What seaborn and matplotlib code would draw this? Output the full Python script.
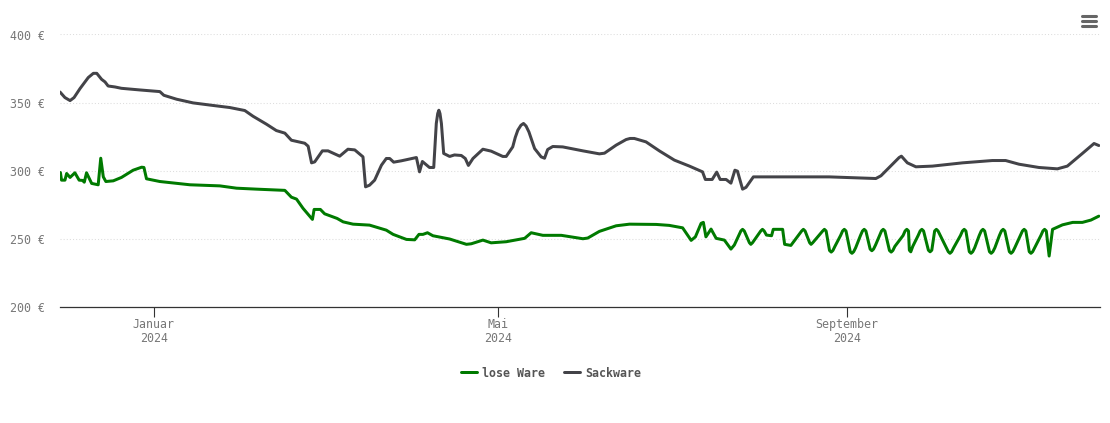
import matplotlib
matplotlib.use('Agg')
import pandas as pd
import seaborn as sns
from matplotlib import pyplot as plt
from matplotlib.lines import Line2D

# Tage relativ zum 1.1.2024, Preise in Euro
lose_tage = [
    -32.9, -32.5, -31.3, -30.7, -29.5, -27.8, -26.3, -25.1, -24.5, -23.7, -21.9, -19.6, -18.7, -17.8, -16.9,
    -14.3, -11.4, -7.3, -4.3, -3.5, -2.6, 2.1, 12.7, 23.2, 29.1, 36.1, 46.1, 48.4, 50.2, 52.5,
    55.8, 56.4, 58.6, 60.1, 64.5, 66.6, 70.1, 75.9, 81.8, 84.2, 88.9, 91.8, 93.3, 94.7, 96.3,
    98.2, 104.1, 110.0, 111.7, 115.8, 118.7, 124.0, 130.5, 132.8, 136.9, 143.4, 151.0, 152.7, 156.8, 162.7,
    167.4, 176.8, 181.4, 186.1, 189.1, 190.6, 192.6, 193.4, 194.3, 196.1, 197.9, 200.8, 203.1, 204.3,
    206.6, 207.2, 207.8, 209.6, 210.1, 210.7, 213.6, 214.2, 214.8, 215.6, 217.4, 218.0, 221.3, 222.0, 224.2,
    228.0, 228.6, 229.2, 230.8, 231.3, 231.9, 235.4, 236.0, 236.6, 237.8, 238.4, 239.0,
    239.7, 241.7, 242.4, 243.0, 243.6, 245.1, 245.7, 246.3, 247.0, 248.7, 249.4, 250.0, 250.6, 252.1, 252.7, 253.3,
    254.0, 255.4, 256.1, 256.7, 257.3, 258.9, 259.5, 260.1, 260.8, 263.7, 264.4, 265.0, 265.6, 265.9, 266.4,
    267.1, 269.0, 269.7, 270.3, 270.9, 272.6, 273.2, 273.8, 274.8, 275.4, 276.0, 279.6, 280.2, 280.8,
    281.5, 283.9, 284.6, 285.2, 285.8, 287.0, 287.6, 288.2, 288.9, 290.5, 291.2, 291.8, 292.4, 294.1, 294.7, 295.3,
    296.0, 297.6, 298.3, 298.9, 299.5, 301.1, 301.7, 302.3, 303.0, 305.0, 305.7, 306.3, 306.9, 308.1, 308.7, 309.3,
    310.0, 312.2, 312.9, 313.5, 314.1, 315.1, 316.3, 319.8, 323.4, 326.8, 329.8, 332.6,
]
lose_preis = [
    298.7, 293.1, 293.1, 298.0, 295.1, 298.5, 293.1, 292.9, 291.6, 298.5, 290.7, 289.7, 309.2, 295.5, 292.1,
    292.6, 295.1, 300.4, 302.6, 302.4, 294.1, 292.1, 289.7, 288.9, 287.2, 286.5, 285.6, 280.6, 279.2, 272.4,
    264.3, 271.6, 271.6, 268.4, 265.0, 262.5, 260.8, 260.1, 256.4, 253.3, 249.6, 249.3, 253.3, 253.3, 254.5,
    252.3, 249.9, 246.0, 246.4, 249.1, 247.1, 247.9, 250.4, 254.5, 252.6, 252.6, 250.1, 250.6, 255.5, 259.6,
    260.8, 260.6, 259.9, 258.1, 248.9, 251.5, 261.4, 262.1, 251.5, 257.2, 250.4, 249.1, 242.5, 245.5,
    255.8, 257.0, 255.8, 247.2, 246.0, 247.2, 255.8, 257.0, 255.8, 252.8, 252.3, 257.0, 257.0, 246.0, 245.2,
    255.8, 257.0, 255.8, 247.2, 246.0, 247.2, 255.8, 257.0, 255.8, 241.5, 240.3, 241.5,
    244.5, 252.5, 255.8, 257.0, 255.8, 240.6, 239.4, 240.6, 243.5, 252.5, 255.8, 257.0, 255.8, 242.5, 241.3, 242.5,
    245.5, 252.5, 255.8, 257.0, 255.8, 241.5, 240.3, 241.5, 244.5, 252.5, 255.8, 257.0, 255.8, 241.7, 240.5,
    244.5, 252.5, 255.8, 257.0, 255.8, 241.7, 240.5, 241.7, 255.8, 257.0, 255.8, 240.6, 239.4, 240.6,
    243.5, 252.5, 255.8, 257.0, 255.8, 240.6, 239.4, 240.6, 243.5, 252.5, 255.8, 257.0, 255.8, 240.6, 239.4, 240.6,
    243.5, 252.5, 255.8, 257.0, 255.8, 240.6, 239.4, 240.6, 243.5, 252.5, 255.8, 257.0, 255.8, 240.6, 239.4, 240.6,
    243.5, 252.5, 255.8, 257.0, 255.8, 237.4, 257.0, 260.3, 262.1, 262.1, 263.8, 266.7,
]

sack_tage = [
    -33.05, -31.3, -29.5, -28.1, -26.0, -23.1, -21.3, -20.1, -18.4, -17.2, -16.1, -13.7, -11.4, -4.9, 2.1,
    3.5, 8.0, 13.8, 20.9, 26.7, 32.0, 34.9, 39.6, 43.1, 46.1, 48.4, 53.1, 54.3, 55.5, 56.6,
    59.3, 61.3, 65.4, 68.3, 70.7, 73.6, 74.5, 75.9, 77.7, 80.1, 81.8, 83.0, 84.4, 87.1, 92.4,
    93.5, 94.5, 97.0, 98.5, 99.4, 99.9, 100.3, 100.7, 101.2, 102.0, 104.1, 105.8, 108.2, 109.6, 110.7, 112.3, 115.8,
    118.7, 122.8, 124.0, 126.3, 127.2, 128.1, 129.2, 130.1, 131.0, 132.0, 134.0, 136.3, 137.5, 138.6, 140.4, 143.9, 151.0, 156.8,
    158.6, 162.7, 166.2, 167.6, 169.1, 173.2, 177.9, 183.2, 188.5, 193.1, 194.1, 196.5, 198.1, 199.3, 201.4, 203.1,
    204.5, 205.4, 207.2, 208.4, 211.0, 237.7, 254.1, 255.9, 262.3, 263.1, 265.2, 268.2, 274.0, 284.6, 295.1,
    299.8, 304.5, 311.5, 318.0, 321.5, 326.8, 330.9, 332.6,
]
sack_preis = [
    357.8, 353.7, 351.5, 353.7, 360.3, 368.4, 371.5, 371.5, 367.1, 365.2, 362.2, 361.5, 360.5, 359.3, 358.1,
    355.4, 352.5, 349.8, 347.9, 346.4, 344.2, 340.0, 334.2, 329.5, 327.6, 322.4, 320.2, 318.0, 305.8, 306.5,
    314.6, 314.6, 310.7, 315.8, 315.3, 310.2, 288.2, 289.4, 293.1, 304.1, 309.0, 309.0, 306.3, 307.3, 309.7,
    299.2, 306.8, 302.4, 302.4, 334.7, 342.0, 344.4, 342.0, 334.7, 312.7, 310.5, 311.6, 311.2, 309.0, 303.9, 309.0, 315.8,
    314.4, 310.5, 310.5, 317.5, 324.5, 329.8, 333.4, 334.7, 332.8, 328.5, 316.3, 310.2, 309.2, 315.6, 317.8, 317.5, 314.6, 312.4,
    312.9, 318.8, 322.9, 323.7, 323.7, 321.2, 314.6, 307.8, 303.4, 299.2, 293.6, 293.6, 299.0, 293.6, 293.6, 290.9,
    300.4, 299.7, 286.5, 287.8, 295.5, 295.5, 294.3, 296.3, 309.7, 310.7, 305.8, 302.9, 303.4, 305.8, 307.5,
    307.5, 304.8, 302.4, 301.4, 303.4, 312.7, 320.0, 318.5,
]

y_ticks = [200, 250, 300, 350, 400]
x_ticks = ['2024-01-01', '2024-05-01', '2024-09-01']
x_labels = ['Januar\n2024', 'Mai\n2024', 'September\n2024']

start = pd.Timestamp('2024-01-01')


def _frame(tage, preis, name):
    '''Long format for seaborn'''
    return pd.DataFrame({
        'datum': start + pd.to_timedelta(tage, unit='D'),
        'preis': preis,
        'sorte': name,
    })


df = pd.concat([_frame(lose_tage, lose_preis, 'lose Ware'), _frame(sack_tage, sack_preis, 'Sackware')])

sns.set_theme(style='white')
plt.rcParams['font.family'] = ['DejaVu Sans Mono']

fig = plt.figure(figsize=(11.1, 4.23), dpi=100, facecolor='white')
ax = fig.add_axes([60 / 1110, (423 - 307) / 423, 1040 / 1110, 272.5 / 423])

sns.lineplot(
    data=df, x='datum', y='preis', hue='sorte', ax=ax, sort=False, estimator=None,
    palette={'lose Ware': '#007a00', 'Sackware': '#434348'}, linewidth=2.16,
    solid_joinstyle='round', solid_capstyle='round', legend=True)

ax.set_xlim(pd.Timestamp('2023-11-28 23:00'), pd.Timestamp('2024-11-29'))
ax.set_ylim(200, 400)
ax.set_xlabel('')
ax.set_ylabel('')

ax.set_yticks(y_ticks)
ax.set_yticklabels(['%d €' % v for v in y_ticks])
ax.set_xticks(pd.to_datetime(x_ticks))
ax.set_xticklabels(x_labels, linespacing=1.15, ha='center')
ax.tick_params(axis='y', length=0, pad=11, labelsize=8.4, labelcolor='#777777')
ax.tick_params(axis='x', length=7.2, width=0.8, color='#333333', pad=0.5, labelsize=8.4, labelcolor='#777777', bottom=True)

ax.grid(axis='y', color='#dddddd', linestyle=(0, (1, 2)), linewidth=0.75)
ax.grid(axis='x', visible=False)
ax.set_axisbelow(True)
for side in ['top', 'left', 'right']:
    ax.spines[side].set_visible(False)
ax.spines['bottom'].set_color('#333333')
ax.spines['bottom'].set_linewidth(0.9)

handles, labels = ax.get_legend_handles_labels()
leg = ax.legend(
    handles, labels, ncol=2, frameon=False, loc='center', bbox_to_anchor=(551 / 1110, (423 - 373) / 423),
    bbox_transform=fig.transFigure, handlelength=1.37, handletextpad=0.4, columnspacing=1.7,
    prop={'size': 8.4, 'weight': 'bold'})
for text in leg.get_texts():
    text.set_color('#555555')

# Menu symbol top right
for y in [16, 21, 26]:
    fig.add_artist(Line2D([1081.5 / 1110, 1096 / 1110], [(423 - y) / 423] * 2, color='#666666', linewidth=2.2,
                          solid_capstyle='round'))

fig.savefig('out.png', dpi=100)
